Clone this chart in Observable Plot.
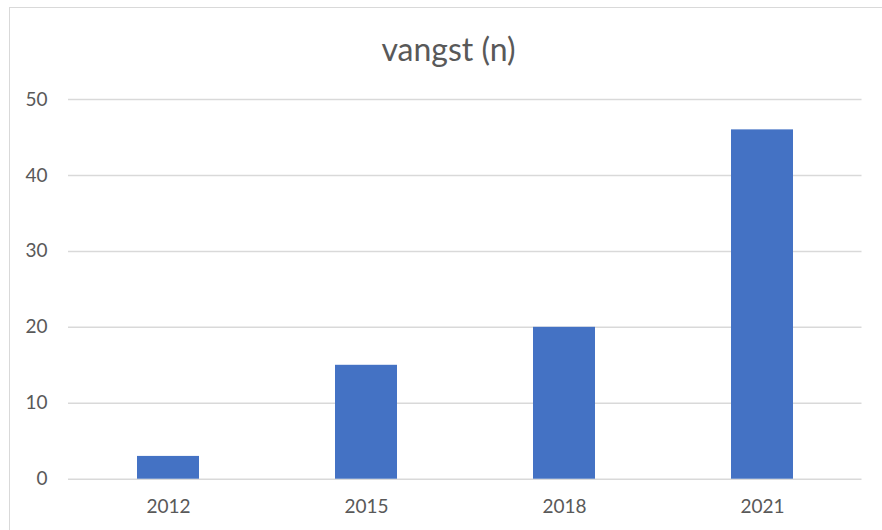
<!DOCTYPE html>
<html>
<head>
<meta charset="utf-8">
<script src="https://cdn.jsdelivr.net/npm/d3@7"></script>
<script src="https://cdn.jsdelivr.net/npm/@observablehq/plot@0.6"></script>
<style>
  html, body { margin: 0; padding: 0; background: #fff; }
  #wrap { position: relative; width: 882px; height: 530px; overflow: hidden; background: #fff; }
  #border { position: absolute; left: 9px; top: 7px; width: 900px; height: 600px; border: 1.5px solid #d9d9d9; box-sizing: border-box; }
  #title { position: absolute; left: 0; width: 897px; top: 29px; text-align: center; font-family: Lato, "Open Sans", sans-serif; font-size: 32px; color: #595959; line-height: 40px; }
  #chart { position: absolute; left: 0; top: 0; }
</style>
</head>
<body>
<div id="wrap">
  <div id="border"></div>
  <div id="title">vangst (n)</div>
  <div id="chart"></div>
</div>
<script>
const years = ["2012", "2015", "2018", "2021"];
const values = [3, 15, 20, 46];
const yTicks = [0, 10, 20, 30, 40, 50];

const data = years.map((y, i) => ({year: y, value: values[i]}));

const chart = Plot.plot({
  width: 882,
  height: 530,
  marginLeft: 68,
  marginRight: 20.5,
  marginTop: 99,
  marginBottom: 51.3,
  style: { fontFamily: "Lato, 'Open Sans', sans-serif", fontSize: "19px", color: "#595959", background: "transparent" },
  x: { domain: years, paddingInner: 0.685, paddingOuter: 0.3425, label: null },
  y: { domain: [0, 50], label: null },
  marks: [
    Plot.gridY(yTicks, { stroke: "#d9d9d9", strokeOpacity: 1, strokeWidth: 1.5 }),
    Plot.barY(data, { x: "year", y: "value", fill: "#4472C4" }),
    Plot.axisY(yTicks, { tickSize: 0, tickPadding: 21, fill: "#595959", label: null }),
    Plot.axisX({ tickSize: 0, tickPadding: 20, fill: "#595959", label: null })
  ]
});
document.getElementById("chart").appendChild(chart);
</script>
</body>
</html>
